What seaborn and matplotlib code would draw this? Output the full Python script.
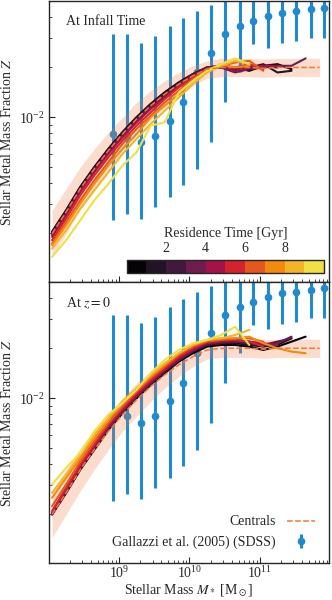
import matplotlib
matplotlib.use('Agg')
import matplotlib.pyplot as plt
import matplotlib.colors as mcolors
from matplotlib.lines import Line2D
import numpy as np
import pandas as pd
import seaborn as sns

# stellar mass bins (log10 M*/Msun)
LOG_MASS = [8.05, 8.25, 8.45, 8.65, 8.85, 9.05, 9.25, 9.45, 9.65, 9.85,
            10.05, 10.25, 10.45, 10.65, 10.85, 11.05, 11.25, 11.45, 11.65, 11.85]

# centrals: median and 16-84 band (log10 Z)
CENTRAL_LOGZ = [-2.70, -2.57, -2.43, -2.31, -2.20, -2.10, -2.01, -1.93, -1.86, -1.80,
                -1.75, -1.71, -1.70, -1.70, -1.70, -1.705, -1.70, -1.70, -1.70, -1.70]
CENTRAL_LO = [-2.84, -2.70, -2.56, -2.43, -2.31, -2.20, -2.11, -2.02, -1.94, -1.87,
              -1.81, -1.765, -1.755, -1.755, -1.755, -1.76, -1.755, -1.755, -1.755, -1.755]
CENTRAL_HI = [-2.56, -2.43, -2.30, -2.19, -2.09, -2.00, -1.91, -1.84, -1.78, -1.73,
              -1.69, -1.66, -1.645, -1.645, -1.645, -1.65, -1.645, -1.645, -1.645, -1.645]

# satellites split by residence time, one row per bin (log10 Z)
INFALL_LOGZ = [
    [-2.69, -2.56, -2.42, -2.30, -2.19, -2.09, -2.00, -1.92, -1.85, -1.79, -1.74, -1.70, -1.69, -1.70, -1.72, -1.69, -1.68, -1.71],
    [-2.69, -2.56, -2.42, -2.30, -2.19, -2.09, -2.00, -1.92, -1.85, -1.79, -1.74, -1.70, -1.70, -1.71, -1.70, -1.68, -1.73, -1.72],
    [-2.70, -2.57, -2.43, -2.31, -2.20, -2.10, -2.01, -1.93, -1.86, -1.80, -1.74, -1.70, -1.69, -1.72, -1.70, -1.69, -1.70],
    [-2.71, -2.58, -2.44, -2.32, -2.21, -2.11, -2.02, -1.94, -1.87, -1.80, -1.75, -1.70, -1.70, -1.73, -1.71, -1.70, -1.69, -1.69, -1.645],
    [-2.72, -2.59, -2.45, -2.33, -2.22, -2.12, -2.03, -1.95, -1.88, -1.81, -1.75, -1.71, -1.69, -1.72, -1.70, -1.69, -1.69],
    [-2.74, -2.61, -2.47, -2.35, -2.24, -2.14, -2.05, -1.97, -1.89, -1.82, -1.76, -1.71, -1.69, -1.70, -1.68, -1.71],
    [-2.76, -2.63, -2.50, -2.38, -2.27, -2.16, -2.07, -1.99, -1.91, -1.84, -1.77, -1.71, -1.69, -1.67, -1.66, -1.72],
    [-2.77, -2.65, -2.52, -2.40, -2.29, -2.19, -2.10, -2.00, -1.93, -1.86, -1.78, -1.72, -1.68, -1.70, -1.69],
    [-2.79, -2.68, -2.55, -2.44, -2.33, -2.22, -2.13, -2.04, -1.96, -1.88, -1.80, -1.73, -1.69, -1.66, -1.68],
    [-2.84, -2.74, -2.62, -2.50, -2.40, -2.29, -2.21, -2.05, -2.03, -1.85, -1.78, -1.72, -1.68, -1.645, -1.68],
]
Z0_LOGZ = [
    [-2.70, -2.57, -2.43, -2.31, -2.19, -2.09, -2.00, -1.92, -1.85, -1.78, -1.73, -1.69, -1.68, -1.68, -1.69, -1.71, -1.69, -1.66, -1.63],
    [-2.70, -2.57, -2.43, -2.31, -2.19, -2.09, -2.00, -1.92, -1.84, -1.78, -1.72, -1.68, -1.67, -1.67, -1.68, -1.69, -1.68, -1.64],
    [-2.70, -2.56, -2.42, -2.30, -2.18, -2.08, -1.99, -1.91, -1.84, -1.77, -1.72, -1.68, -1.67, -1.66, -1.67, -1.68, -1.66, -1.64],
    [-2.70, -2.56, -2.42, -2.30, -2.18, -2.08, -1.99, -1.91, -1.83, -1.77, -1.71, -1.67, -1.66, -1.66, -1.66, -1.68, -1.67, -1.63],
    [-2.69, -2.55, -2.41, -2.29, -2.17, -2.07, -1.98, -1.90, -1.83, -1.76, -1.71, -1.67, -1.66, -1.65, -1.66, -1.67, -1.68],
    [-2.68, -2.54, -2.40, -2.28, -2.16, -2.06, -1.97, -1.89, -1.82, -1.75, -1.70, -1.66, -1.65, -1.65, -1.66, -1.69],
    [-2.65, -2.52, -2.38, -2.26, -2.15, -2.05, -1.96, -1.88, -1.81, -1.74, -1.69, -1.66, -1.65, -1.64, -1.64, -1.66],
    [-2.60, -2.48, -2.36, -2.24, -2.13, -2.03, -1.95, -1.87, -1.80, -1.73, -1.68, -1.65, -1.64, -1.64, -1.63, -1.67, -1.70, -1.72, -1.73],
    [-2.57, -2.46, -2.34, -2.22, -2.12, -2.02, -1.94, -1.86, -1.79, -1.73, -1.68, -1.65, -1.64, -1.62, -1.59],
    [-2.52, -2.42, -2.33, -2.20, -2.10, -2.03, -1.95, -1.85, -1.77, -1.71, -1.67, -1.65, -1.62, -1.57, -1.68],
]
RES_COLORS = ['#050305', '#221327', '#41193f', '#6e1d4e', '#a5124a',
              '#d5232e', '#e6571b', '#f28a0c', '#f5b326', '#efe046']
RES_BOUNDS = [0, 1, 2, 3, 4, 5, 6, 7, 8, 9, 10]
CBAR_TICKS = [2, 4, 6, 8]

# Gallazzi et al. (2005) SDSS: log M*, median and 16/84 percentiles of log10 Z
GAL_LOGM = [8.91, 9.11, 9.31, 9.51, 9.72, 9.91, 10.11, 10.31,
            10.51, 10.72, 10.91, 11.11, 11.31, 11.51, 11.72, 11.91]
GAL_MED = [-2.10, -2.11, -2.15, -2.11, -2.02, -1.91, -1.73, -1.61,
           -1.50, -1.45, -1.42, -1.39, -1.37, -1.36, -1.35, -1.34]
GAL_LO = [-2.62, -2.58, -2.61, -2.54, -2.48, -2.41, -2.31, -2.15,
          -1.91, -1.73, -1.56, -1.585, -1.555, -1.54, -1.52, -1.52]
GAL_HI = [-1.50, -1.50, -1.55, -1.51, -1.45, -1.405, -1.36, -1.325,
          -1.30, -1.28, -1.26, -1.25, -1.24, -1.22, -1.21, -1.20]

PANEL_TITLES = ['At Infall Time', r'At $z=0$']

CENTRAL_COLOR = '#f2773a'
GAL_COLOR = '#1f8ad0'


def lines_frame(rows):
    recs = []
    for i, row in enumerate(rows):
        for lm, lz in zip(LOG_MASS, row):
            recs.append({'mass': 10**lm, 'Z': 10**lz, 'bin': i})
    return pd.DataFrame(recs)


def main():
    sns.set_style('ticks')
    plt.rcParams['font.family'] = ['Liberation Serif', 'DejaVu Serif']
    plt.rcParams['mathtext.fontset'] = 'stix'
    plt.rcParams['font.size'] = 10
    plt.rcParams['xtick.direction'] = 'in'
    plt.rcParams['ytick.direction'] = 'in'

    fig, axes = plt.subplots(2, 1, figsize=(3.32, 6), dpi=100, sharex=True)
    fig.subplots_adjust(left=0.148, right=0.99, top=0.998, bottom=0.062, hspace=0)

    mass = 10**np.array(LOG_MASS)
    gm = 10**np.array(GAL_LOGM)
    gmed = 10**np.array(GAL_MED)
    gerr = [gmed - 10**np.array(GAL_LO), 10**np.array(GAL_HI) - gmed]

    for ax, rows, title in zip(axes, [INFALL_LOGZ, Z0_LOGZ], PANEL_TITLES):
        gal = ax.errorbar(gm, gmed, yerr=gerr, fmt='o', ms=4.5, color=GAL_COLOR,
                          elinewidth=2.2, capsize=0, zorder=1)
        ax.fill_between(mass, 10**np.array(CENTRAL_LO), 10**np.array(CENTRAL_HI),
                        color=CENTRAL_COLOR, alpha=0.25, lw=0, zorder=2)
        sns.lineplot(data=lines_frame(rows), x='mass', y='Z', hue='bin',
                     hue_order=list(range(10)), palette=RES_COLORS,
                     estimator=None, sort=False, lw=1.5, legend=False,
                     ax=ax, zorder=3)
        sns.lineplot(x=mass, y=10**np.array(CENTRAL_LOGZ), color=CENTRAL_COLOR,
                     ls='--', lw=1.1, ax=ax, zorder=4)
        ax.set_xscale('log')
        ax.set_yscale('log')
        ax.set_xlim(1.02e8, 9.5e11)
        ax.set_ylim(1.02e-3, 5e-2)
        ax.set_ylabel(r'Stellar Metal Mass Fraction $Z$', labelpad=3)
        ax.set_xlabel(r'Stellar Mass $M_*$ [M$_\odot$]', labelpad=1)
        ax.text(0.06, 0.95, title, transform=ax.transAxes, ha='left', va='top')
        ax.tick_params(which='major', length=4)
        ax.tick_params(which='minor', length=2)
        ax.tick_params(axis='x', pad=2)
        for s in ax.spines.values():
            s.set_linewidth(1.0)

    handles = [Line2D([], [], color=CENTRAL_COLOR, ls='--', lw=1.1), gal]
    axes[1].legend(handles, ['Centrals', 'Gallazzi et al. (2005) (SDSS)'],
                   loc='lower right', frameon=False, markerfirst=False,
                   fontsize=10, handlelength=2.0, borderaxespad=0.6)

    cmap = mcolors.ListedColormap(RES_COLORS)
    norm = mcolors.BoundaryNorm(RES_BOUNDS, cmap.N)
    cax = fig.add_axes([126.7 / 332, 1 - 273.3 / 600, (324 - 126.7) / 332, 13.3 / 600])
    cb = fig.colorbar(plt.cm.ScalarMappable(norm=norm, cmap=cmap), cax=cax,
                      orientation='horizontal', ticks=CBAR_TICKS)
    cax.xaxis.set_ticks_position('top')
    cax.xaxis.set_label_position('top')
    cax.tick_params(direction='in', length=3)
    cb.set_label('Residence Time [Gyr]')
    cb.outline.set_linewidth(1.0)

    fig.savefig('out.png', dpi=100)
    plt.close(fig)


if __name__ == '__main__':
    main()
